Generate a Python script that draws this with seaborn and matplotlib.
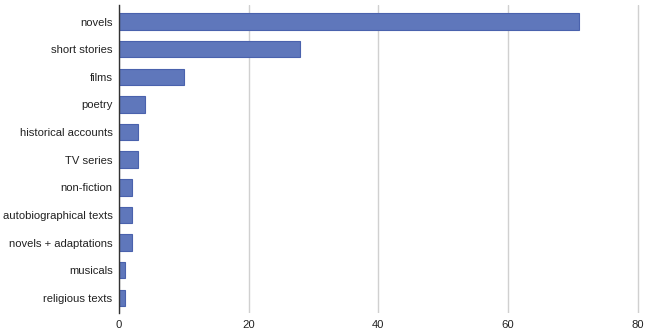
import matplotlib
matplotlib.use("Agg")
import matplotlib.pyplot as plt
import seaborn as sns
import pandas as pd

# --- Data ---
categories = ['novels', 'short stories', 'films', 'poetry', 'historical accounts',
              'TV series', 'non-fiction', 'autobiographical texts',
              'novels + adaptations', 'musicals', 'religious texts']
counts = [71, 28, 10, 4, 3, 3, 2, 2, 2, 1, 1]
x_ticks = [0, 20, 40, 60, 80]

df = pd.DataFrame({'category': categories, 'count': counts})

sns.set_theme(style="white")
plt.rcParams['font.family'] = ['Liberation Sans', 'DejaVu Sans']

fig = plt.figure(figsize=(6.46, 3.33), dpi=100)
ax = fig.add_axes([0.184, 0.06, 0.808, 0.925])

sns.barplot(data=df, x='count', y='category', orient='h', color='#5f77bb',
            edgecolor='#4a62ad', linewidth=0.8, width=0.6, saturation=1, ax=ax)

ax.set_xlim(0, 80.5)
ax.set_ylim(10.55, -0.6)
ax.set_xticks(x_ticks)
ax.xaxis.grid(True, color='#d0d0d0', linewidth=1)
ax.set_axisbelow(True)
for s in ['top', 'right', 'bottom']:
    ax.spines[s].set_visible(False)
ax.spines['left'].set_color('#333333')
ax.spines['left'].set_linewidth(1)
ax.set_xlabel('')
ax.set_ylabel('')
ax.tick_params(axis='both', length=0, labelsize=8.1, colors='#222222')
ax.tick_params(axis='y', pad=4.5)
ax.tick_params(axis='x', pad=5)

fig.savefig("out.png", dpi=100)
